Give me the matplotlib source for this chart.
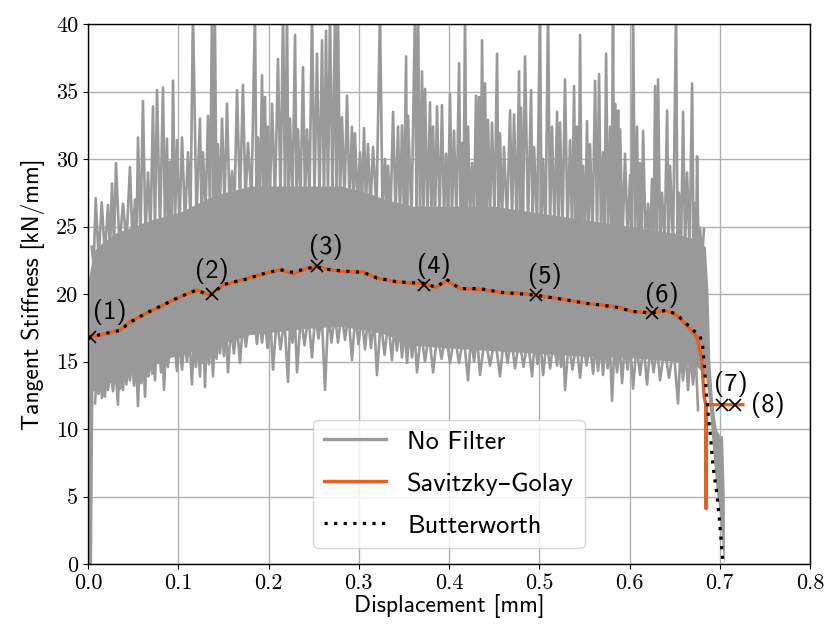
import numpy as np
import matplotlib
matplotlib.use("Agg")
import matplotlib.pyplot as plt
from matplotlib.lines import Line2D

# ---------------- data ----------------
# raw signal ("No Filter"): dense core band plus individual spikes
core_x = [0.0005, 0.004, 0.0055, 0.01, 0.03, 0.05, 0.07, 0.10, 0.13, 0.15, 0.18, 0.22,
          0.25, 0.28, 0.31, 0.33, 0.36, 0.40, 0.45, 0.50, 0.55, 0.60, 0.65, 0.675,
          0.684, 0.687, 0.689, 0.692, 0.696, 0.700, 0.703, 0.705]
core_lo = [0.0, 0.0, 12.8, 13.0, 13.6, 14.3, 14.8, 15.5, 16.0, 16.4, 17.0, 17.3,
           17.5, 17.6, 17.3, 17.0, 16.2, 16.0, 15.8, 15.6, 15.4, 15.3, 15.0, 14.6,
           14.0, 12.5, 11.0, 8.5, 5.5, 3.5, 1.0, 0.0]
core_hi = [21.0, 22.5, 23.0, 23.5, 24.5, 25.0, 25.5, 26.0, 27.0, 27.5, 28.0, 28.0,
           28.0, 28.0, 27.5, 27.0, 26.5, 26.5, 26.5, 26.0, 25.5, 25.0, 24.5, 24.0,
           23.5, 20.0, 15.0, 12.0, 10.0, 9.5, 9.5, 5.0]

spike_up_x = [0.0041, 0.0085, 0.0152, 0.0222, 0.0266, 0.0310, 0.0388, 0.0465, 0.0521, 0.0554,
              0.0609, 0.0665, 0.0720, 0.0765, 0.0831, 0.0875, 0.0909, 0.0942, 0.0986, 0.1042,
              0.1108, 0.1163, 0.1241, 0.1274, 0.1330, 0.1374, 0.1407, 0.1440, 0.1485, 0.1540,
              0.1596, 0.1651, 0.1717, 0.1773, 0.1850, 0.1884, 0.1928, 0.1961, 0.1994, 0.2039,
              0.2105, 0.2161, 0.2205, 0.2238, 0.2294, 0.2327, 0.2382, 0.2427, 0.2482, 0.2537,
              0.2593, 0.2637, 0.2681, 0.2737, 0.2770, 0.2814, 0.2870, 0.2925, 0.2958, 0.3014,
              0.3058, 0.3102, 0.3158, 0.3235, 0.3291, 0.3324, 0.3380, 0.3435, 0.3479, 0.3524,
              0.3546, 0.3623, 0.3657, 0.3701, 0.3734, 0.3789, 0.3823, 0.3867, 0.3922, 0.3967,
              0.4011, 0.4055, 0.4111, 0.4144, 0.4177, 0.4211, 0.4255, 0.4299, 0.4332, 0.4366,
              0.4399, 0.4432, 0.4476, 0.4532, 0.4565, 0.4609, 0.4676, 0.4720, 0.4776, 0.4798,
              0.4842, 0.4909, 0.4942, 0.5008, 0.5042, 0.5097, 0.5141, 0.5197, 0.5230, 0.5285,
              0.5341, 0.5385, 0.5418, 0.5452, 0.5485, 0.5529, 0.5562, 0.5618, 0.5662, 0.5706,
              0.5740, 0.5784, 0.5817, 0.5839, 0.5873, 0.5895, 0.5950, 0.6006, 0.6039, 0.6083,
              0.6116, 0.6150, 0.6205, 0.6249, 0.6283, 0.6316, 0.6360, 0.6416, 0.6449, 0.6515,
              0.6548, 0.6593, 0.6637, 0.6693, 0.6726, 0.6748, 0.6781, 0.6825]
spike_up_y = [23.5, 27.1, 26.8, 26.6, 28.2, 29.7, 26.7, 29.4, 27.0, 31.6,
              34.3, 29.0, 33.9, 35.1, 35.3, 31.5, 29.8, 35.8, 31.4, 31.6,
              30.5, 41.0, 33.0, 30.5, 33.2, 41.0, 40.0, 31.1, 33.0, 34.1,
              29.1, 35.1, 35.5, 31.2, 41.0, 31.6, 36.2, 34.6, 32.4, 34.1,
              37.4, 41.0, 41.0, 33.0, 39.2, 32.2, 36.8, 32.2, 41.0, 37.8,
              38.8, 39.5, 41.0, 41.0, 41.0, 33.1, 34.7, 32.4, 31.9, 30.5,
              32.3, 31.1, 30.9, 41.0, 30.0, 29.5, 33.5, 32.4, 32.5, 37.6,
              33.2, 41.0, 41.0, 36.5, 35.2, 34.2, 32.4, 33.9, 34.0, 30.4,
              34.8, 32.1, 37.1, 31.2, 41.0, 32.4, 29.7, 34.7, 34.6, 38.8,
              35.6, 32.9, 32.7, 37.8, 31.9, 30.9, 33.6, 33.3, 36.5, 33.8,
              37.6, 35.1, 30.9, 41.0, 30.0, 41.0, 32.4, 33.5, 32.7, 35.9,
              31.4, 35.4, 32.4, 39.2, 29.5, 32.8, 31.1, 35.8, 36.3, 30.5,
              37.8, 32.4, 41.0, 34.1, 33.6, 32.2, 30.4, 28.8, 41.0, 32.4,
              29.7, 32.1, 26.7, 28.5, 35.4, 35.9, 27.5, 33.6, 29.5, 41.0,
              27.5, 33.5, 29.0, 35.6, 26.7, 30.2, 24.9, 24.8]

spike_dn_x = [0.0078, 0.0117, 0.0155, 0.0188, 0.0222, 0.0277, 0.0332, 0.0360, 0.0388, 0.0426,
              0.0465, 0.0510, 0.0554, 0.0593, 0.0632, 0.0670, 0.0709, 0.0742, 0.0776, 0.0809,
              0.0842, 0.0886, 0.0931, 0.0986, 0.1042, 0.1097, 0.1152, 0.1196, 0.1241, 0.1268,
              0.1296, 0.1340, 0.1385, 0.1424, 0.1463, 0.1507, 0.1551, 0.1617, 0.1684, 0.1750,
              0.1817, 0.1872, 0.1928, 0.1989, 0.2050, 0.2133, 0.2216, 0.2266, 0.2316, 0.2399,
              0.2482, 0.2554, 0.2626, 0.2698, 0.2770, 0.2847, 0.2925, 0.2997, 0.3069, 0.3135,
              0.3202, 0.3285, 0.3368, 0.3423, 0.3479, 0.3535, 0.3590, 0.3645, 0.3734, 0.3823,
              0.3917, 0.4011, 0.4111, 0.4211, 0.4277, 0.4343, 0.4454, 0.4565, 0.4648, 0.4731,
              0.4825, 0.4920, 0.4981, 0.5042, 0.5120, 0.5197, 0.5241, 0.5285, 0.5368, 0.5452,
              0.5524, 0.5596, 0.5651, 0.5706, 0.5756, 0.5806, 0.5861, 0.5917, 0.5978, 0.6039,
              0.6116, 0.6194, 0.6266, 0.6338, 0.6437, 0.6537, 0.6592, 0.6648, 0.6703, 0.6759]
spike_dn_y = [11.9, 12.6, 12.3, 12.4, 12.9, 12.8, 11.8, 13.0, 12.9, 13.3,
              13.6, 13.2, 11.7, 13.4, 12.4, 13.9, 14.1, 13.6, 14.9, 14.2,
              12.9, 14.6, 15.6, 14.3, 14.4, 15.0, 13.3, 14.6, 13.9, 14.9,
              13.1, 14.8, 13.9, 15.2, 15.6, 15.4, 14.2, 15.6, 14.9, 16.1,
              17.1, 16.3, 16.4, 16.0, 14.4, 15.9, 13.5, 16.4, 14.2, 16.2,
              15.3, 16.7, 12.9, 16.4, 16.4, 16.6, 15.1, 16.3, 15.9, 16.0,
              14.0, 15.5, 15.1, 15.8, 15.3, 14.9, 15.3, 14.2, 15.0, 14.2,
              15.2, 14.9, 14.9, 13.6, 15.0, 14.0, 14.7, 13.9, 14.9, 14.5,
              14.6, 13.9, 14.8, 14.0, 14.5, 14.7, 14.6, 12.9, 14.4, 13.8,
              14.7, 14.1, 14.3, 14.0, 14.5, 12.1, 14.2, 13.4, 14.4, 13.0,
              14.0, 13.3, 14.2, 13.6, 13.8, 11.9, 13.6, 12.9, 13.3, 11.4]

# Savitzky-Golay filtered curve
sg_x = [0.0022, 0.0133, 0.0355, 0.0465, 0.065, 0.0835, 0.102, 0.1204, 0.135, 0.150,
        0.168, 0.176, 0.194, 0.213, 0.2275, 0.242, 0.2534, 0.268, 0.283, 0.305,
        0.320, 0.342, 0.3716, 0.386, 0.397, 0.412, 0.434, 0.460, 0.482, 0.497,
        0.527, 0.5526, 0.567, 0.586, 0.604, 0.6246, 0.641, 0.652, 0.663, 0.6745,
        0.680, 0.6826, 0.6845, 0.6848, 0.6848, 0.7255]
sg_y = [16.84, 16.96, 17.33, 17.95, 18.57, 19.19, 19.8, 20.3, 19.9, 20.67,
        21.0, 21.16, 21.5, 21.8, 21.5, 21.9, 22.07, 21.8, 21.65, 21.65,
        21.16, 20.9, 20.74, 20.5, 21.0, 20.4, 20.35, 20.1, 20.05, 19.9,
        19.6, 19.31, 19.19, 19.06, 18.7, 18.6, 18.77, 18.44, 17.7, 16.84,
        15.1, 12.4, 11.8, 4.1, 11.8, 11.8]

# Butterworth filtered curve
bw_x = [0.0, 0.0133, 0.0355, 0.0465, 0.065, 0.0835, 0.102, 0.1204, 0.135, 0.150,
        0.168, 0.176, 0.194, 0.213, 0.2275, 0.242, 0.2534, 0.268, 0.283, 0.305,
        0.320, 0.342, 0.3716, 0.386, 0.397, 0.412, 0.434, 0.460, 0.482, 0.497,
        0.527, 0.5526, 0.567, 0.586, 0.604, 0.6246, 0.641, 0.652, 0.663, 0.6707,
        0.678, 0.681, 0.6826, 0.6848, 0.687, 0.690, 0.6925, 0.6966, 0.6996, 0.703, 0.7035]
bw_y = [16.7, 17.0, 17.3, 17.9, 18.6, 19.2, 19.8, 20.3, 19.9, 20.7,
        21.0, 21.1, 21.5, 21.8, 21.6, 21.9, 22.0, 21.8, 21.7, 21.6,
        21.2, 20.9, 20.8, 20.5, 21.1, 20.4, 20.4, 20.1, 20.0, 19.9,
        19.6, 19.3, 19.2, 19.0, 18.7, 18.6, 18.8, 18.5, 17.8, 17.3,
        16.9, 16.1, 14.9, 12.9, 11.2, 9.2, 7.2, 5.25, 3.26, 0.4, 0.0]

# marked points
mark_x = [0.002, 0.137, 0.254, 0.372, 0.496, 0.625, 0.702, 0.717]
mark_y = [16.8, 20.0, 22.07, 20.7, 19.9, 18.6, 11.8, 11.8]
mark_labels = ["(1)", "(2)", "(3)", "(4)", "(5)", "(6)", "(7)", "(8)"]
label_dx = [0.022, 0.000, 0.010, 0.011, 0.010, 0.011, 0.010, 0.036]
label_dy = [1.85, 1.7, 1.45, 1.4, 1.4, 1.35, 1.5, 0.0]

x_ticks = [0.0, 0.1, 0.2, 0.3, 0.4, 0.5, 0.6, 0.7, 0.8]
y_ticks = [0, 5, 10, 15, 20, 25, 30, 35, 40]

# ---------------- plot ----------------
GRAY = "#999999"
ORANGE = "#e8601c"
SANS = ["cmss10", "DejaVu Sans"]

plt.rcParams["axes.unicode_minus"] = False
fig = plt.figure(figsize=(8.30, 6.33), dpi=100)
ax = fig.add_axes([0.106, 0.109, 0.870, 0.853])

ax.set_axisbelow(True)
ax.grid(True, color="#b0b0b0", linewidth=1.0)

cx = np.array(core_x)
ax.fill_between(cx, core_lo, core_hi, color=GRAY, linewidth=0, zorder=2)

# upper jagged edge: spikes joined through the core top level
ux = np.array(spike_up_x)
umid = (ux[:-1] + ux[1:]) / 2
up_x = np.empty(ux.size + umid.size)
up_y = np.empty_like(up_x)
up_x[0::2] = ux
up_x[1::2] = umid
up_y[0::2] = spike_up_y
up_y[1::2] = np.interp(umid, cx, core_hi) - 1.0
ax.plot(up_x, up_y, color=GRAY, linewidth=1.9, zorder=2)

# lower jagged edge: dips joined through the core bottom level
dx = np.array(spike_dn_x)
dmid = (dx[:-1] + dx[1:]) / 2
dn_x = np.empty(dx.size + dmid.size)
dn_y = np.empty_like(dn_x)
dn_x[0::2] = dx
dn_x[1::2] = dmid
dn_y[0::2] = spike_dn_y
dn_y[1::2] = np.interp(dmid, cx, core_lo) + 1.0
ax.plot(dn_x, dn_y, color=GRAY, linewidth=1.9, zorder=2)

ax.plot(sg_x, sg_y, color=ORANGE, linewidth=2.4, zorder=3)
ax.plot(bw_x, bw_y, color="black", linestyle=(0, (1, 2)), linewidth=2.3, zorder=4)
ax.plot(mark_x, mark_y, linestyle="none", marker="x", color="black",
        markersize=8, markeredgewidth=1.2, zorder=5)
for x, y, s, ddx, ddy in zip(mark_x, mark_y, mark_labels, label_dx, label_dy):
    ax.text(x + ddx, y + ddy, s, family=SANS, fontsize=19, ha="center", va="center", zorder=6)

ax.set_xlim(0, 0.8)
ax.set_ylim(0, 40)
ax.set_xticks(x_ticks)
ax.set_yticks(y_ticks)
ax.set_xticklabels([f"{v:.1f}" for v in x_ticks], family="cmr10", fontsize=16)
ax.set_yticklabels([f"{v:d}" for v in y_ticks], family="cmr10", fontsize=16)
ax.set_xlabel("Displacement [mm]", family=SANS, fontsize=17, labelpad=0.5)
ax.set_ylabel("Tangent Stiffness [kN/mm]", family=SANS, fontsize=17, labelpad=8)
for sp in ax.spines.values():
    sp.set_linewidth(1.0)

handles = [Line2D([], [], color=GRAY, linewidth=2.4),
           Line2D([], [], color=ORANGE, linewidth=2.4),
           Line2D([], [], color="black", linestyle=(0, (1, 2)), linewidth=2.3)]
leg = ax.legend(handles, ["No Filter", "Savitzky–Golay", "Butterworth"],
                loc="lower center", prop={"family": SANS, "size": 19},
                handlelength=2.35, handletextpad=0.8, labelspacing=0.7,
                borderaxespad=0.6, framealpha=0.8)
leg.get_frame().set_edgecolor("#cccccc")

fig.savefig("out.png", dpi=100)
